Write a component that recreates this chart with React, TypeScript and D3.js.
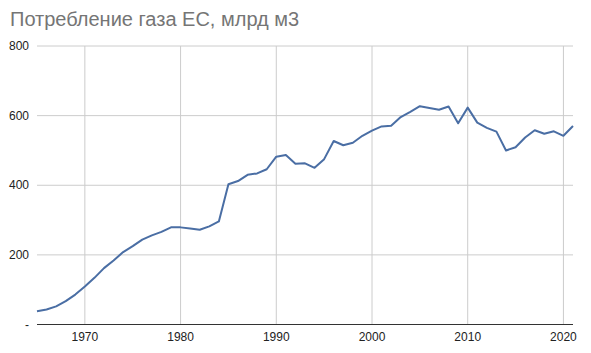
import * as d3 from "d3";
import React from "react";

const years = d3.range(1965, 2022);
const consumption = [
  38, 43, 52, 67, 86, 109, 134, 162, 184, 208,
  225, 244, 256, 266, 279, 279, 276, 272, 282, 296,
  403, 412, 430, 434, 446, 482, 487, 462, 463, 450,
  475, 527, 515, 522, 542, 557, 569, 571, 596, 611,
  627, 622, 617, 626, 578, 623, 580, 565, 554, 500,
  509, 537, 558, 548, 555, 542, 570,
];
const yTicks = [0, 200, 400, 600, 800];
const xTicks = [1970, 1980, 1990, 2000, 2010, 2020];
const title = "Потребление газа ЕС, млрд м3";

const W = 591, H = 353;
const m = { l: 37, r: 18, t: 46, b: 28.5 };

const App: React.FC = () => {
  const x = d3.scaleLinear([1965, 2021], [m.l, W - m.r]);
  const y = d3.scaleLinear([0, 800], [H - m.b, m.t]);
  const line = d3.line<number>().x((_, i) => x(years[i])).y(d => y(d));
  const font = "Arial, 'Liberation Sans', sans-serif";

  return (
    <svg width={W} height={H} style={{ position: "absolute", left: 0, top: 0, background: "#fff" }} fontFamily={font}>
      <text x={10} y={26} fontSize={20} fill="#757575">{title}</text>
      {yTicks.map(t => (
        <g key={"y" + t}>
          {t > 0 && <line x1={m.l} x2={W - m.r} y1={y(t)} y2={y(t)} stroke="#cccccc" />}
          <text x={29} y={y(t) + 4} fontSize={12} textAnchor="end" fill="#222">{t === 0 ? "-" : t}</text>
        </g>
      ))}
      {xTicks.map(t => (
        <g key={"x" + t}>
          <line x1={x(t)} x2={x(t)} y1={m.t} y2={y(0)} stroke="#cccccc" />
          <text x={x(t)} y={H - 12} fontSize={12} textAnchor="middle" fill="#222">{t}</text>
        </g>
      ))}
      <line x1={m.l} x2={W - m.r} y1={y(0)} y2={y(0)} stroke="#333" />
      <path d={line(consumption) ?? ""} fill="none" stroke="#4a6ea4" strokeWidth={2} strokeLinejoin="round" />
    </svg>
  );
};

export default App;
